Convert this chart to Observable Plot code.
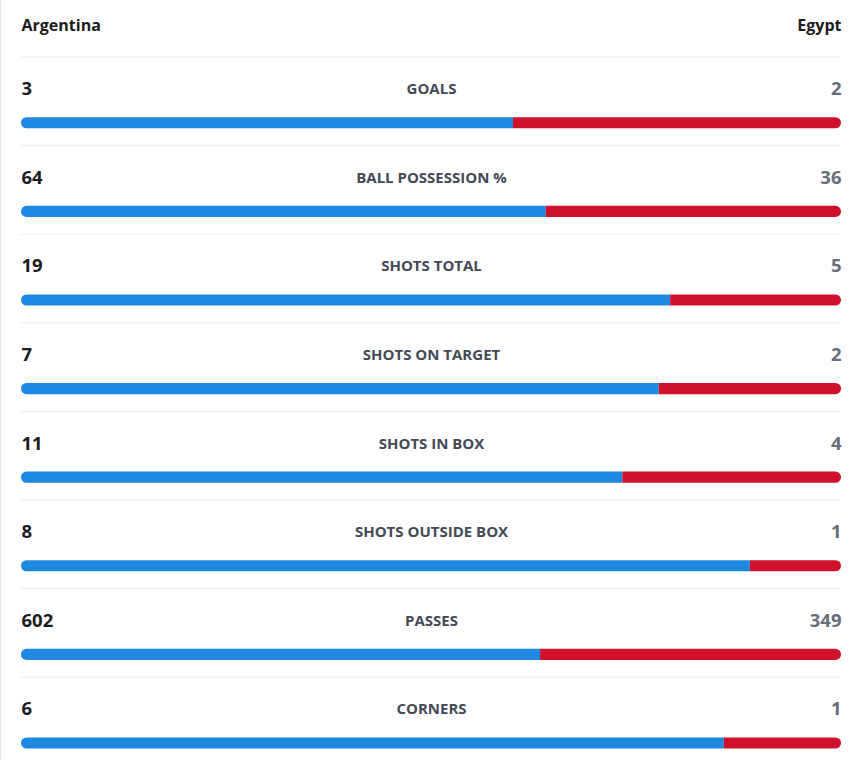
<!DOCTYPE html>
<html>
<head>
<meta charset="utf-8">
<script src="https://cdn.jsdelivr.net/npm/d3@7"></script>
<script src="https://cdn.jsdelivr.net/npm/@observablehq/plot@0.6"></script>
<style>
  html, body { margin: 0; padding: 0; background: #fff; }
  #wrap { position: relative; width: 862px; height: 760px; }
  #wrap::before { content: ""; position: absolute; left: 0; top: 0; bottom: 0; width: 1px; background: #e6e6e6; }
  svg { background: transparent !important; font-family: "Open Sans", sans-serif; }
</style>
</head>
<body>
<div id="wrap"></div>
<script>
const teams = ["Argentina", "Egypt"];
const statLabels = ["GOALS", "BALL POSSESSION %", "SHOTS TOTAL", "SHOTS ON TARGET", "SHOTS IN BOX", "SHOTS OUTSIDE BOX", "PASSES", "CORNERS"];
const argentina = [3, 64, 19, 7, 11, 8, 602, 6];
const egypt = [2, 36, 5, 2, 4, 1, 349, 1];

const rows = statLabels.map((label, i) => ({
  i, label, a: argentina[i], b: egypt[i], share: argentina[i] / (argentina[i] + egypt[i])
}));

const BLUE = "#1f88e0";
const RED = "#d0112b";
const NUM_OFF = 0.365, BAR_OFF = 0.748, BAR_H = 0.063;

const plot = Plot.plot({
  width: 862,
  height: 760,
  margin: 0,
  x: { domain: [0, 1], range: [21, 841], axis: null },
  y: { domain: [-0.6377, 7.94], range: [0, 760], axis: null },
  marks: [
    // separators
    Plot.ruleY(rows, { y: d => d.i, x1: 0, x2: 1, stroke: "#ececec", strokeWidth: 1 }),
    // header
    Plot.text([teams[0]], { x: 0, y: -0.35, text: d => d, textAnchor: "start", fontSize: 16, fontWeight: 700, fill: "#1c1c1e" }),
    Plot.text([teams[1]], { x: 1, y: -0.35, text: d => d, textAnchor: "end", fontSize: 16, fontWeight: 700, fill: "#1c1c1e" }),
    // values
    Plot.text(rows, { x: 0, y: d => d.i + NUM_OFF, text: d => String(d.a), textAnchor: "start", fontSize: 18.5, fontWeight: 700, fill: "#1c1c1e" }),
    Plot.text(rows, { x: 1, y: d => d.i + NUM_OFF, text: d => String(d.b), textAnchor: "end", fontSize: 18.5, fontWeight: 700, fill: "#676e7a" }),
    Plot.text(rows, { x: 0.5, y: d => d.i + NUM_OFF, text: "label", textAnchor: "middle", fontSize: 15, fontWeight: 700, fill: "#434a56" }),
    // bars: blue with rounded left end, red with rounded right end
    Plot.rect(rows, { x1: 0, x2: "share", y1: d => d.i + BAR_OFF - BAR_H, y2: d => d.i + BAR_OFF + BAR_H, fill: BLUE, rx1: 5.5 }),
    Plot.rect(rows, { x1: "share", x2: 1, y1: d => d.i + BAR_OFF - BAR_H, y2: d => d.i + BAR_OFF + BAR_H, fill: RED, rx2: 5.5 })
  ]
});
document.getElementById("wrap").appendChild(plot);
</script>
</body>
</html>
